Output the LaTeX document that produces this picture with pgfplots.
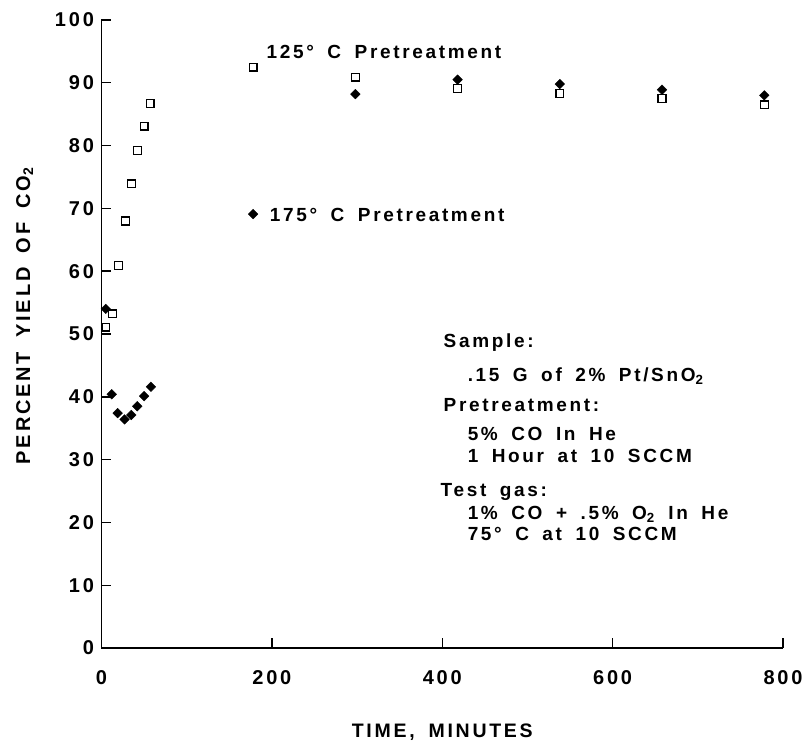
\documentclass[border=0pt]{standalone}
\usepackage{pgfplots}
\pgfplotsset{compat=1.18}
\usepackage{fontspec}
\setmainfont{Liberation Sans}[LetterSpace=14,WordSpace=1.7]
\pgfplotstableread{
t y
5 51.1
13 53.2
20 60.9
28 68.0
35 73.9
42 79.2
50 83.1
57 86.7
178 92.5
298 90.9
418 89.1
538 88.3
658 87.5
778 86.5
}\lowT
\pgfplotstableread{
t y
5 54.0
12 40.4
19 37.4
27 36.4
35 37.1
42 38.5
50 40.1
58 41.6
178 69.1
298 88.2
418 90.5
538 89.8
658 88.9
778 88.0
}\highT
\begin{document}
\begin{tikzpicture}
\useasboundingbox (-101.5pt,-96pt) rectangle (700.5pt,648pt);
\begin{axis}[
  at={(0pt,0pt)}, anchor=south west,
  scale only axis, width=681.5pt, height=628pt,
  xmin=0, xmax=800, ymin=0, ymax=100,
  axis x line=bottom, axis y line=left,
  axis line style={-, line width=1.5pt},
  xtick={0,200,400,600,800}, ytick={0,10,...,100},
  tick align=inside, major tick length=10pt,
  tick style={line width=1.4pt, black},
  /pgf/number format/assume math mode=true,
  ticklabel style={font=\fontsize{20}{22}\selectfont\bfseries},
  xticklabel style={yshift=-19pt},
  yticklabel style={xshift=-4pt},
  clip=false,
]
\addplot[only marks, mark=square, mark size=3.9pt, mark options={line width=1.3pt, fill=white}] table {\lowT};
\addplot[only marks, mark=square*, mark size=3.4pt, mark options={rotate=45, fill=black, draw=black}] table {\highT};
\node[rotate=90, anchor=base, font=\fontsize{20}{22}\selectfont\bfseries] at (axis cs:-83.8,52.9) {PERCENT YIELD OF CO\textsubscript{2}};
\node[anchor=base, font=\fontsize{19.5}{22}\selectfont\bfseries] at (axis cs:400,-14.2) {TIME, MINUTES};
\node[anchor=base west, inner sep=0pt, font=\fontsize{19}{22}\selectfont\bfseries] at (axis cs:193.7,93.9) {125° C Pretreatment};
\node[anchor=base west, inner sep=0pt, font=\fontsize{19}{22}\selectfont\bfseries] at (axis cs:197.5,67.9) {175° C Pretreatment};
\begin{scope}[every node/.style={anchor=base west, inner sep=0pt, font=\fontsize{19}{22}\selectfont\bfseries}]
\node at (axis cs:401.5,47.9) {Sample:};
\node at (axis cs:429.7,42.5) {.15 G of 2\% Pt/SnO\textsubscript{2}};
\node at (axis cs:401.5,37.6) {Pretreatment:};
\node at (axis cs:429.7,33.1) {5\% CO In He};
\node at (axis cs:429.7,29.5) {1 Hour at 10 SCCM};
\node at (axis cs:398,24.2) {Test gas:};
\node at (axis cs:429.7,20.5) {1\% CO + .5\% O\textsubscript{2} In He};
\node at (axis cs:429.7,17.1) {75° C at 10 SCCM};
\end{scope}
\end{axis}
\end{tikzpicture}
\end{document}
